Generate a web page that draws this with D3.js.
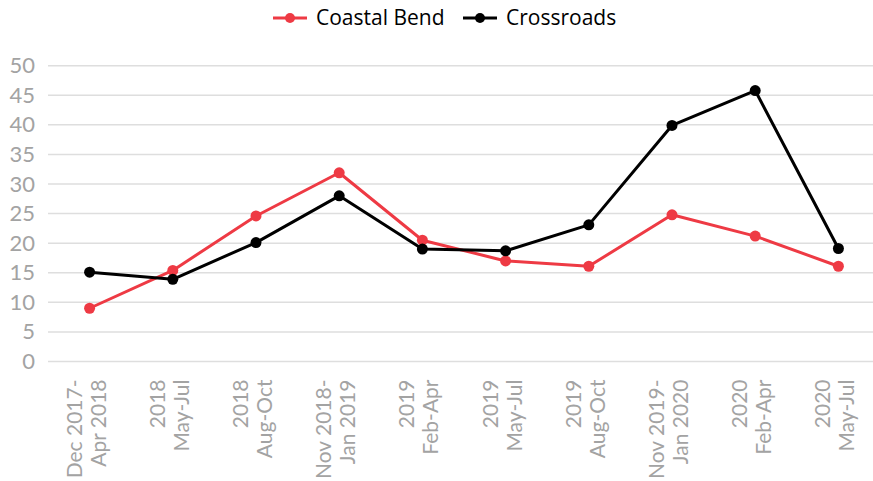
<!DOCTYPE html>
<html>
<head>
<meta charset="utf-8">
<script src="https://cdn.jsdelivr.net/npm/d3@7"></script>
<style>
  body { margin: 0; background: #fff; }
  svg { display: block; }
</style>
</head>
<body>
<div id="chart"></div>
<script>
// *** data
var periods = [
    ["Dec 2017-", "Apr 2018"],
    ["2018", "May-Jul"],
    ["2018", "Aug-Oct"],
    ["Nov 2018-", "Jan 2019"],
    ["2019", "Feb-Apr"],
    ["2019", "May-Jul"],
    ["2019", "Aug-Oct"],
    ["Nov 2019-", "Jan 2020"],
    ["2020", "Feb-Apr"],
    ["2020", "May-Jul"]
];
var seriesNames = ["Coastal Bend", "Crossroads"];
var coastalBend = [9.0, 15.4, 24.6, 31.9, 20.5, 17.0, 16.1, 24.8, 21.2, 16.1];
var crossroads = [15.1, 13.9, 20.1, 28.0, 19.0, 18.7, 23.1, 39.9, 45.8, 19.1];
var yTicks = [0, 5, 10, 15, 20, 25, 30, 35, 40, 45, 50];

var colors = ["#ee3a44", "#000000"];
var series = [coastalBend, crossroads];

// *** Set up svg
var width = 873, height = 481;
var margin = { top: 65.7, right: -7, bottom: 119.5, left: 48 };

var svg = d3.select("#chart").append("svg")
    .attr("width", width)
    .attr("height", height);

var keys = periods.map(function(d, i) { return i; });

var x = d3.scaleBand()
    .domain(keys)
    .range([margin.left, width - margin.right]);

var y = d3.scaleLinear()
    .domain([0, 50])
    .range([height - margin.bottom, margin.top]);

// gridlines
svg.append("g")
    .selectAll("line")
    .data(yTicks)
    .enter().append("line")
    .attr("x1", margin.left)
    .attr("x2", width)
    .attr("y1", function(d) { return y(d); })
    .attr("y2", function(d) { return y(d); })
    .attr("stroke", "#dedede")
    .attr("stroke-width", 1.5);

// y axis
var yAxis = d3.axisLeft(y).tickValues(yTicks).tickSize(0).tickPadding(0);
svg.append("g")
    .attr("class", "y axis")
    .attr("transform", "translate(35,0)")
    .call(yAxis)
    .call(function(g) { g.select(".domain").remove(); })
    .selectAll("text")
    .attr("fill", "#a3a3a3")
    .style("font-family", "Lato, 'Open Sans', sans-serif")
    .style("font-size", "22px");

// x axis labels, rotated, two lines
var xAxis = d3.axisBottom(x).tickSize(0).tickFormat("");
var xg = svg.append("g")
    .attr("class", "x axis")
    .attr("transform", "translate(0," + (height - margin.bottom) + ")")
    .call(xAxis);
xg.select(".domain").remove();

xg.selectAll(".tick").each(function(k) {
    var t = d3.select(this).append("text")
        .attr("transform", "rotate(-90)")
        .attr("text-anchor", "end")
        .attr("fill", "#a3a3a3")
        .style("font-family", "Lato, 'Open Sans', sans-serif")
        .style("font-size", "21px");
    t.append("tspan").attr("x", -18).attr("y", -8).text(periods[k][0]);
    t.append("tspan").attr("x", -18).attr("y", 16).text(periods[k][1]);
});

// lines and points
var line = d3.line()
    .x(function(d, i) { return x(i) + x.bandwidth() / 2; })
    .y(function(d) { return y(d); });

series.forEach(function(vals, s) {
    svg.append("path")
        .datum(vals)
        .attr("fill", "none")
        .attr("stroke", colors[s])
        .attr("stroke-width", 3)
        .attr("stroke-linejoin", "round")
        .attr("d", line);

    svg.append("g")
        .selectAll("circle")
        .data(vals)
        .enter().append("circle")
        .attr("cx", function(d, i) { return x(i) + x.bandwidth() / 2; })
        .attr("cy", function(d) { return y(d); })
        .attr("r", 5.5)
        .attr("fill", colors[s]);
});

// legend
var legendX = [273, 463];
var legend = svg.append("g").attr("transform", "translate(0,18)");
seriesNames.forEach(function(name, s) {
    var g = legend.append("g").attr("transform", "translate(" + legendX[s] + ",0)");
    g.append("line")
        .attr("x1", 0).attr("x2", 34)
        .attr("stroke", colors[s])
        .attr("stroke-width", 3);
    g.append("circle")
        .attr("cx", 17)
        .attr("r", 5)
        .attr("fill", colors[s]);
    g.append("text")
        .attr("x", 43)
        .attr("dy", "0.35em")
        .attr("fill", "#000")
        .style("font-family", "'Open Sans', sans-serif")
        .style("font-size", "21px")
        .text(name);
});
</script>
</body>
</html>
